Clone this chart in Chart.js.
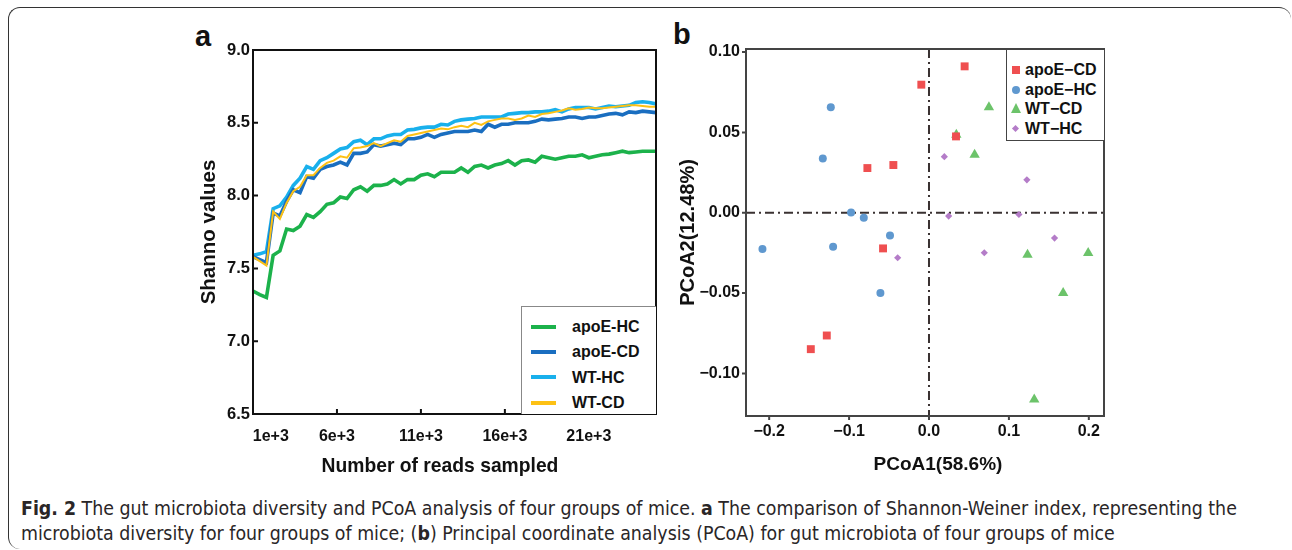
<!DOCTYPE html>
<html>
<head>
<meta charset="utf-8">
<script src="https://cdn.jsdelivr.net/npm/chart.js@4.4.0/dist/chart.umd.min.js"></script>
<style>
    body { margin: 0; background: #fff; width: 1292px; height: 550px; position: relative; overflow: hidden; }
    #frame { position: absolute; left: 8px; top: 7px; width: 1282px; height: 541px; border-top: 1.5px solid #333; border-left: 1.5px solid #333; border-radius: 12px 12px 0 12px; }
    .letter { position: absolute; font: bold 29px "Liberation Sans", Arial, sans-serif; color: #111; }
    canvas { position: absolute; }
    .axisTitle { position: absolute; font: bold 19.3px "Liberation Sans", Arial, sans-serif; color: #111; white-space: nowrap; transform: translateX(-50%); }
    .legend { position: absolute; background: #fff; font: bold 16px "Liberation Sans", Arial, sans-serif; color: #111; }
    .legend .row { position: absolute; left: 0; white-space: nowrap; }
    #legendA { left: 521px; top: 306px; width: 134px; height: 107px; border-left: 1px solid #888; border-top: 1px solid #888; }
    #legendB { left: 1006px; top: 50px; width: 97px; height: 90px; border-left: 1.5px solid #444; border-bottom: 1.5px solid #444; }
    #caption { position: absolute; left: 21px; top: 496px; font-family: "Liberation Sans Narrow", "DejaVu Sans Condensed", sans-serif; font-size: 19.35px; line-height: 25px; color: #2a2627; white-space: nowrap; }
</style>
</head>
<body>
<div id="frame"></div>
<div class="letter" style="left:195px;top:20px">a</div>
<div class="letter" style="left:673px;top:18px">b</div>
<canvas id="chartA" width="474" height="460" style="left:196px;top:20px"></canvas>
<canvas id="chartB" width="440" height="470" style="left:676px;top:20px"></canvas>
<div class="axisTitle" style="left:440px;top:455px">Number of reads sampled</div>
<div class="axisTitle" style="left:938px;top:453px;font-size:19px">PCoA1(58.6%)</div>
<div id="legendA" class="legend"></div>
<div id="legendB" class="legend"></div>
<div id="caption"><b>Fig. 2</b> The gut microbiota diversity and PCoA analysis of four groups of mice. <b>a</b> The comparison of Shannon-Weiner index, representing the<br>microbiota diversity for four groups of mice; (<b>b</b>) Principal coordinate analysis (PCoA) for gut microbiota of four groups of mice</div>
<script>
// Panel a - rarefaction curves (Shannon values)

const reads = [1000, 1400, 1800, 2200, 2600, 3000, 3400, 3800, 4200, 4600,
    5000, 5400, 5800, 6200, 6600, 7000, 7400, 7800, 8200, 8600,
    9000, 9400, 9800, 10200, 10600, 11000, 11400, 11800, 12200, 12600,
    13000, 13400, 13800, 14200, 14600, 15000, 15400, 15800, 16200, 16600,
    17000, 17400, 17800, 18200, 18600, 19000, 19400, 19800, 20200, 20600,
    21000, 21400, 21800, 22200, 22600, 23000, 23400, 23800, 24200, 24600, 25000];

const apoeHC = [7.345, 7.32, 7.30, 7.59, 7.62, 7.77, 7.76, 7.79, 7.87, 7.85,
    7.89, 7.94, 7.95, 7.99, 7.98, 8.04, 8.06, 8.03, 8.07, 8.07,
    8.08, 8.11, 8.08, 8.11, 8.11, 8.14, 8.15, 8.13, 8.16, 8.16,
    8.16, 8.19, 8.16, 8.20, 8.21, 8.19, 8.21, 8.22, 8.24, 8.21,
    8.24, 8.245, 8.23, 8.27, 8.26, 8.25, 8.26, 8.27, 8.27, 8.28,
    8.26, 8.27, 8.28, 8.285, 8.295, 8.305, 8.295, 8.30, 8.305, 8.305, 8.305];

const apoeCD = [7.58, 7.56, 7.54, 7.88, 7.86, 7.96, 8.04, 8.02, 8.13, 8.12,
    8.18, 8.20, 8.21, 8.23, 8.21, 8.29, 8.29, 8.30, 8.35, 8.34,
    8.35, 8.36, 8.35, 8.39, 8.39, 8.40, 8.42, 8.40, 8.42, 8.43,
    8.44, 8.44, 8.44, 8.45, 8.44, 8.49, 8.47, 8.49, 8.49, 8.50,
    8.50, 8.50, 8.51, 8.525, 8.52, 8.525, 8.53, 8.54, 8.54, 8.53,
    8.54, 8.54, 8.55, 8.56, 8.565, 8.555, 8.575, 8.57, 8.58, 8.575, 8.57];

const wtHC = [7.59, 7.60, 7.615, 7.91, 7.93, 7.99, 8.07, 8.12, 8.20, 8.18,
    8.24, 8.26, 8.29, 8.32, 8.33, 8.37, 8.38, 8.35, 8.39, 8.39,
    8.41, 8.42, 8.42, 8.45, 8.455, 8.465, 8.47, 8.47, 8.49, 8.485,
    8.51, 8.52, 8.525, 8.53, 8.54, 8.54, 8.54, 8.54, 8.56, 8.565,
    8.57, 8.57, 8.575, 8.575, 8.58, 8.59, 8.575, 8.595, 8.605, 8.605,
    8.605, 8.595, 8.605, 8.615, 8.61, 8.615, 8.62, 8.64, 8.645, 8.64, 8.63];

const wtCD = [7.58, 7.55, 7.52, 7.89, 7.84, 7.95, 8.03, 8.06, 8.14, 8.14,
    8.19, 8.225, 8.24, 8.27, 8.26, 8.325, 8.33, 8.34, 8.36, 8.34,
    8.36, 8.38, 8.37, 8.41, 8.42, 8.43, 8.44, 8.45, 8.46, 8.455,
    8.47, 8.48, 8.47, 8.50, 8.485, 8.51, 8.52, 8.53, 8.53, 8.52,
    8.53, 8.55, 8.54, 8.56, 8.565, 8.575, 8.585, 8.60, 8.59, 8.595,
    8.605, 8.60, 8.60, 8.605, 8.61, 8.615, 8.62, 8.62, 8.615, 8.61, 8.61];

const xTickValues = [1000, 6000, 11000, 16000, 21000];
const xTickLabels = ["1e+3", "6e+3", "11e+3", "16e+3", "21e+3"];
const yTickValues = [6.5, 7.0, 7.5, 8.0, 8.5, 9.0];

// Panel b - PCoA points
const apoeCDx = [0.0446, -0.0096, 0.0338, -0.0771, -0.0446, -0.0575, -0.1279, -0.1479];
const apoeCDy = [0.0911, 0.0797, 0.0475, 0.0278, 0.0297, -0.0222, -0.0764, -0.0849];
const apoeHCx = [-0.1229, -0.1329, -0.0975, -0.0816, -0.0488, -0.2084, -0.1200, -0.0608];
const apoeHCy = [0.0656, 0.0338, 0.0002, -0.0031, -0.0141, -0.0226, -0.0212, -0.0500];
const wtCDx = [0.0750, 0.0342, 0.0571, 0.1233, 0.1992, 0.1679, 0.1317];
const wtCDy = [0.0656, 0.0486, 0.0361, -0.0262, -0.0251, -0.0500, -0.1163];
const wtHCx = [0.0192, 0.1225, 0.0246, 0.1125, 0.1571, 0.0692, -0.0392];
const wtHCy = [0.0349, 0.0205, -0.0021, -0.0011, -0.0158, -0.0249, -0.0280];

const pcoaXTicks = [-0.2, -0.1, 0.0, 0.1, 0.2];
const pcoaYTicks = [-0.10, -0.05, 0.00, 0.05, 0.10];

const FONT = '"Liberation Sans", Arial, sans-serif';

function toPoints(xs, ys) {
    return xs.map((x, i) => ({ x: x, y: ys[i] }));
}

function minusSign(text) {
    return text.replace("-", "\u2212");
}

// draws the plot box, the tick marks and (optionally) the dash-dot zero lines
const framePlugin = {
    id: "frame",
    beforeDatasetsDraw(chart, args, opts) {
        if (!opts.zeroLines) return;
        const { ctx, chartArea: a, scales } = chart;
        const x0 = scales.x.getPixelForValue(0);
        const y0 = scales.y.getPixelForValue(0);
        ctx.save();
        ctx.strokeStyle = "#3a3232";
        ctx.lineWidth = 2;
        ctx.setLineDash([9, 4, 2, 4]);
        ctx.beginPath();
        ctx.moveTo(x0, a.top);
        ctx.lineTo(x0, a.bottom);
        ctx.moveTo(a.left, y0);
        ctx.lineTo(a.right, y0);
        ctx.stroke();
        ctx.restore();
    },
    afterDatasetsDraw(chart, args, opts) {
        const { ctx, chartArea: a, scales } = chart;
        const dir = opts.inward ? -1 : 1;
        ctx.save();
        ctx.strokeStyle = opts.color;
        ctx.lineWidth = opts.width;
        ctx.beginPath();
        for (const t of scales.x.ticks) {
            const px = scales.x.getPixelForValue(t.value);
            ctx.moveTo(px, a.bottom);
            ctx.lineTo(px, a.bottom + dir * opts.tickLen);
        }
        for (const t of scales.y.ticks) {
            const py = scales.y.getPixelForValue(t.value);
            ctx.moveTo(a.left, py);
            ctx.lineTo(a.left - dir * opts.tickLen, py);
        }
        ctx.stroke();
        ctx.strokeRect(a.left, a.top, a.right - a.left, a.bottom - a.top);
        ctx.restore();
    }
};

// Panel a

const lineSeries = [
    { label: "apoE-HC", data: apoeHC, color: "#1cb24b", width: 3.6, order: 3 },
    { label: "apoE-CD", data: apoeCD, color: "#1a6ec0", width: 3.6, order: 1 },
    { label: "WT-HC", data: wtHC, color: "#19b0ec", width: 3.6, order: 2 },
    { label: "WT-CD", data: wtCD, color: "#fdc114", width: 2, order: 0 }
];

new Chart(document.getElementById("chartA"), {
    type: "line",
    data: {
        datasets: lineSeries.map((s) => ({
            label: s.label,
            data: toPoints(reads, s.data),
            borderColor: s.color,
            borderWidth: s.width,
            pointRadius: 0,
            tension: 0,
            order: s.order
        }))
    },
    options: {
        responsive: false,
        animation: false,
        layout: { padding: { top: 30, right: 14, left: 0, bottom: 0 } },
        plugins: {
            legend: { display: false },
            tooltip: { enabled: false },
            frame: { color: "#111", width: 2, tickLen: 5, inward: true }
        },
        scales: {
            x: {
                type: "linear",
                min: 1000,
                max: 25000,
                afterBuildTicks: (s) => { s.ticks = xTickValues.map((v) => ({ value: v })); },
                afterFit: (s) => { s.height = 66; },
                grid: { display: false, drawTicks: false },
                border: { display: false },
                ticks: {
                    autoSkip: false,
                    maxRotation: 0,
                    padding: 13,
                    color: "#111",
                    font: { family: FONT, size: 16, weight: "bold" },
                    // the first label sits clear of the axis corner
                    callback: (v, i) => (i === 0 ? "        " : "") + xTickLabels[i]
                }
            },
            y: {
                min: 6.5,
                max: 9.0,
                afterBuildTicks: (s) => { s.ticks = yTickValues.map((v) => ({ value: v })); },
                afterFit: (s) => { s.width = 57; },
                grid: { display: false, drawTicks: false },
                border: { display: false },
                ticks: {
                    padding: 3,
                    color: "#111",
                    font: { family: FONT, size: 16.5, weight: "bold" },
                    callback: (v) => v.toFixed(1)
                },
                title: {
                    display: true,
                    text: "Shanno values",
                    color: "#111",
                    padding: { top: 1, bottom: 0 },
                    font: { family: FONT, size: 20.5, weight: "bold" }
                }
            }
        }
    },
    plugins: [framePlugin]
});

// legend for panel a
const legendA = document.getElementById("legendA");
lineSeries.forEach((s, i) => {
    const row = document.createElement("div");
    row.className = "row";
    row.style.top = (10 + i * 25.3) + "px";
    row.innerHTML = '<span style="display:inline-block;width:25px;height:4px;background:' + s.color +
        ';vertical-align:middle;margin:0 16px 0 9px"></span><span style="vertical-align:middle">' + s.label + "</span>";
    legendA.appendChild(row);
});

// Panel b

const scatterSeries = [
    { label: "apoE\u2212CD", xs: apoeCDx, ys: apoeCDy, color: "#ef4f50", style: "rect", radius: 5.6 },
    { label: "apoE\u2212HC", xs: apoeHCx, ys: apoeHCy, color: "#5f98cf", style: "circle", radius: 4 },
    { label: "WT\u2212CD", xs: wtCDx, ys: wtCDy, color: "#6cc36a", style: "triangle", radius: 6 },
    { label: "WT\u2212HC", xs: wtHCx, ys: wtHCy, color: "#b47cc8", style: "rectRot", radius: 3.6 }
];

new Chart(document.getElementById("chartB"), {
    type: "scatter",
    data: {
        datasets: scatterSeries.map((s) => ({
            label: s.label,
            data: toPoints(s.xs, s.ys),
            backgroundColor: s.color,
            borderWidth: 0,
            pointStyle: s.style,
            pointRadius: s.radius
        }))
    },
    options: {
        responsive: false,
        animation: false,
        layout: { padding: { top: 29, right: 12, left: 0, bottom: 0 } },
        plugins: {
            legend: { display: false },
            tooltip: { enabled: false },
            frame: { color: "#444", width: 2, tickLen: 4, inward: false, zeroLines: true }
        },
        scales: {
            x: {
                type: "linear",
                min: -0.229,
                max: 0.219,
                afterBuildTicks: (s) => { s.ticks = pcoaXTicks.map((v) => ({ value: v })); },
                afterFit: (s) => { s.height = 74; },
                grid: { display: false, drawTicks: false },
                border: { display: false },
                ticks: {
                    autoSkip: false,
                    maxRotation: 0,
                    padding: 6,
                    color: "#111",
                    font: { family: FONT, size: 16, weight: "bold" },
                    callback: (v) => minusSign(v.toFixed(1))
                }
            },
            y: {
                min: -0.1265,
                max: 0.1019,
                afterBuildTicks: (s) => { s.ticks = pcoaYTicks.map((v) => ({ value: v })); },
                afterFit: (s) => { s.width = 70; },
                grid: { display: false, drawTicks: false },
                border: { display: false },
                ticks: {
                    padding: 6,
                    color: "#111",
                    font: { family: FONT, size: 16, weight: "bold" },
                    callback: (v) => minusSign(v.toFixed(2))
                },
                title: {
                    display: true,
                    text: "PCoA2(12.48%)",
                    color: "#111",
                    padding: { top: 0, bottom: 0 },
                    font: { family: FONT, size: 20, weight: "bold" }
                }
            }
        }
    },
    plugins: [framePlugin]
});

// legend for panel b
function markerHtml(s) {
    if (s.style === "rect") return '<span style="position:absolute;left:5px;top:6px;width:8px;height:8px;background:' + s.color + '"></span>';
    if (s.style === "circle") return '<span style="position:absolute;left:5px;top:6px;width:8px;height:8px;border-radius:50%;background:' + s.color + '"></span>';
    if (s.style === "triangle") return '<span style="position:absolute;left:4px;top:4px;width:0;height:0;border-left:5.5px solid transparent;border-right:5.5px solid transparent;border-bottom:10px solid ' + s.color + '"></span>';
    return '<span style="position:absolute;left:6px;top:7px;width:5px;height:5px;transform:rotate(45deg);background:' + s.color + '"></span>';
}

const legendB = document.getElementById("legendB");
scatterSeries.forEach((s, i) => {
    const row = document.createElement("div");
    row.className = "row";
    row.style.top = (10 + i * 19.7) + "px";
    row.style.height = "20px";
    row.style.width = "95px";
    row.innerHTML = markerHtml(s) + '<span style="position:absolute;left:18px;top:1px">' + s.label + "</span>";
    legendB.appendChild(row);
});
</script>
</body>
</html>
